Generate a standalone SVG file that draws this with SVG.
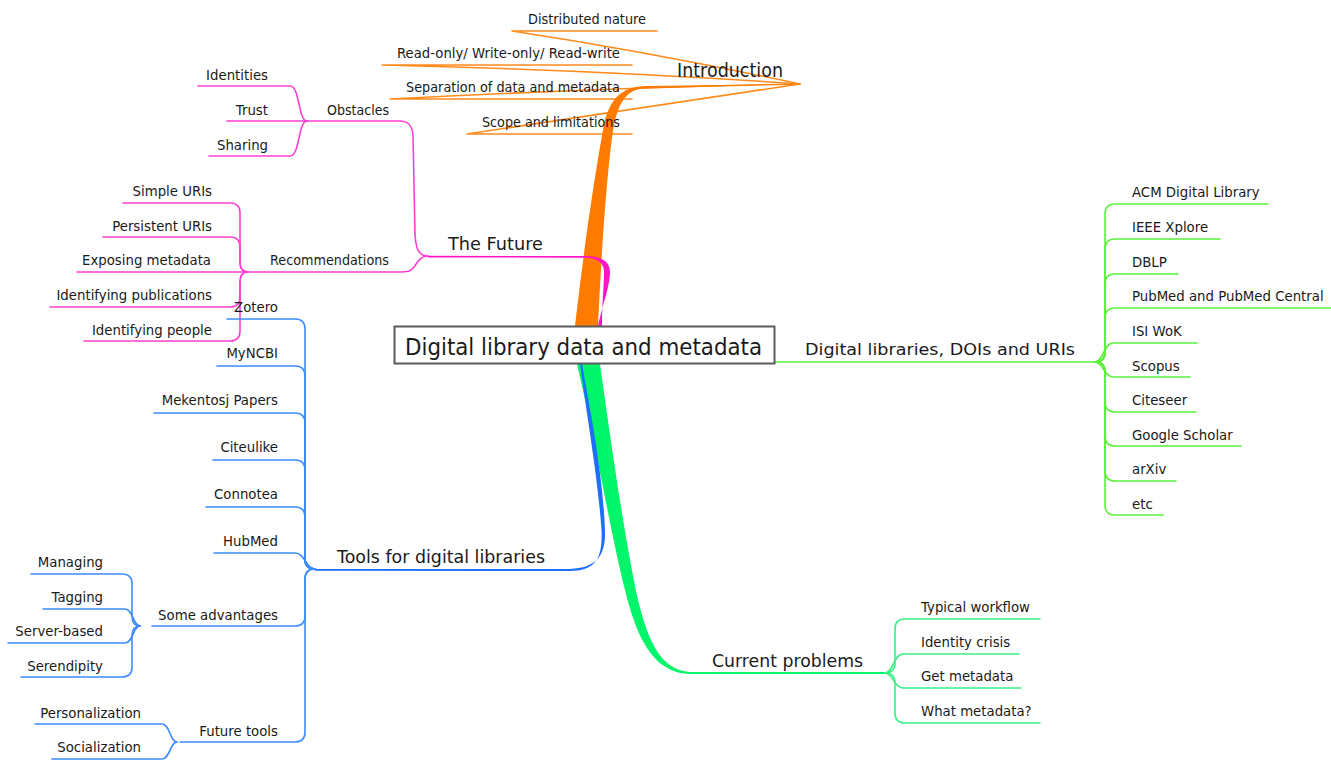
<svg xmlns="http://www.w3.org/2000/svg" width="1331" height="760" viewBox="0 0 1331 760">
<style>
.t{font-family:"DejaVu Sans",Verdana,sans-serif;font-size:13.3px;fill:#1a1a1a}
.e{text-anchor:end}
.b{font-size:18px}
.c{fill:none;stroke-width:1.6;stroke-linecap:round;stroke-linejoin:round}
.or{stroke:#ff8a1c}.pk{stroke:#ff3fd2}.bl{stroke:#3d8cff}.lg{stroke:#5cf03c}.mg{stroke:#3bef86}
</style>
<rect width="1331" height="760" fill="#fff"/>
<g id="connectors">
  <!-- Introduction -->
  <path class="c or" d="M800,84 Q650,52 512,31 H657"/>
  <path class="c or" d="M800,84 Q600,70 382,65 H632"/>
  <path class="c or" d="M800,84 Q600,88 390,99 H632"/>
  <path class="c or" d="M800,84 Q630,110 467,134 H632"/>
  <path fill="#ff7a00" d="M575,326 C585,240 597,160 605,120 C612,95 625,87 645,86 L800,84 L645,88.5 C630,89 620,97 614,125 C608,160 602,240 598,326 Z"/>
  <!-- The Future -->
  <path fill="#ff14c8" d="M598,326 C604,300 610,285 610,272 C610,261 601,256 585,256 L428,255.8 L428,257.4 L585,257.8 C598,258 604,263 604,272 C604,285 602,305 602,326 Z"/>
  <path class="c pk" d="M428,256 C418,256 416,248 415,235 L413,135 C412,125 408,121 400,121 H307"/>
  <path class="c pk" d="M428,256 C420,256 418,262 414,267 C411,271 408,272 400,272 H248"/>
  <path class="c pk" d="M307,121 C298,121 300,86 290,86 H198"/>
  <path class="c pk" d="M307,121 H227"/>
  <path class="c pk" d="M307,121 C298,121 300,156 290,156 H209"/>
  <path class="c pk" d="M248,272 Q240,272 240,262 V213 Q240,203 230,203 H123"/>
  <path class="c pk" d="M248,272 Q240,272 240,262 V247 Q240,237 230,237 H103"/>
  <path class="c pk" d="M248,272 H77"/>
  <path class="c pk" d="M248,272 Q240,272 240,282 V297 Q240,307 230,307 H50"/>
  <path class="c pk" d="M248,272 Q240,272 240,282 V331 Q240,341 230,341 H84"/>
  <!-- Current problems -->
  <path fill="#00f56a" d="M577,364 C597,450 612,540 625,590 C635,630 650,673 690,674 L885,674 L885,672 L690,672 C660,670 648,640 638,600 C625,540 612,450 600,364 Z"/>
  <path class="c mg" d="M885,673 Q895,673 895,663 V629 Q895,619 905,619 H1040"/>
  <path class="c mg" d="M885,673 C893,673 894,654 903,654 H1019"/>
  <path class="c mg" d="M885,673 C893,673 894,688 903,688 H1021"/>
  <path class="c mg" d="M885,673 Q895,673 895,683 V713 Q895,723 905,723 H1040"/>
  <!-- Tools -->
  <path fill="#1f6fff" d="M580,364 C589,430 598,480 601.5,530 C603,560 594,571 570,571 L315,570.8 L315,569 L570,569 C597,568 606,555 605,530 C603,480 594,430 582,364 Z"/>
  <path class="c bl" d="M315,569 Q305,569 305,559 V329 Q305,319 295,319 H227"/>
  <path class="c bl" d="M315,569 Q305,569 305,559 V376 Q305,366 295,366 H217"/>
  <path class="c bl" d="M315,569 Q305,569 305,559 V423 Q305,413 295,413 H154"/>
  <path class="c bl" d="M315,569 Q305,569 305,559 V470 Q305,460 295,460 H213"/>
  <path class="c bl" d="M315,569 Q305,569 305,559 V517 Q305,507 295,507 H206"/>
  <path class="c bl" d="M315,569 C306,569 305,553 295,553 H214"/>
  <path class="c bl" d="M315,569 Q305,569 305,579 V616 Q305,626 295,626 H152"/>
  <path class="c bl" d="M315,569 Q305,569 305,579 V732 Q305,742 295,742 H180"/>
  <path class="c bl" d="M140,626 Q132,626 132,616 V584 Q132,574 122,574 H31"/>
  <path class="c bl" d="M140,626 C133,626 133,609 125,609 H43"/>
  <path class="c bl" d="M140,626 C133,626 133,643 125,643 H8"/>
  <path class="c bl" d="M140,626 Q132,626 132,636 V667 Q132,677 122,677 H21"/>
  <path class="c bl" d="M177,742 C170,742 170,724 162,724 H35"/>
  <path class="c bl" d="M177,742 C170,742 170,759 162,759 H52"/>
  <!-- Digital libraries -->
  <path class="c lg" d="M775,362 H1095"/>
  <path class="c lg" d="M1095,362 Q1105,362 1105,352 V214 Q1105,204 1115,204 H1268"/>
  <path class="c lg" d="M1095,362 Q1105,362 1105,352 V249 Q1105,239 1115,239 H1220"/>
  <path class="c lg" d="M1095,362 Q1105,362 1105,352 V284 Q1105,274 1115,274 H1178"/>
  <path class="c lg" d="M1095,362 Q1105,362 1105,352 V318 Q1105,308 1115,308 H1331"/>
  <path class="c lg" d="M1095,362 C1103,362 1104,343 1113,343 H1197"/>
  <path class="c lg" d="M1095,362 C1103,362 1104,377 1113,377 H1190"/>
  <path class="c lg" d="M1095,362 Q1105,362 1105,372 V402 Q1105,412 1115,412 H1196"/>
  <path class="c lg" d="M1095,362 Q1105,362 1105,372 V436 Q1105,446 1115,446 H1241"/>
  <path class="c lg" d="M1095,362 Q1105,362 1105,372 V471 Q1105,481 1115,481 H1176"/>
  <path class="c lg" d="M1095,362 Q1105,362 1105,372 V505 Q1105,515 1115,515 H1163"/>
</g>
<g id="center">
  <rect x="394.5" y="326.5" width="380" height="37" fill="#fff" stroke="#5a5a5a" stroke-width="2"/>
  <text class="t" x="405" y="355" style="font-size:23px" textLength="357" lengthAdjust="spacingAndGlyphs">Digital library data and metadata</text>
</g>
<g id="introduction">
  <text class="t b" x="677" y="77" style="font-size:19px" textLength="106" lengthAdjust="spacingAndGlyphs">Introduction</text>
</g>
<g id="intro-distributed"><text class="t" x="528" y="24" textLength="118" lengthAdjust="spacingAndGlyphs">Distributed nature</text></g>
<g id="intro-readonly"><text class="t" x="397" y="58" textLength="223" lengthAdjust="spacingAndGlyphs">Read-only/ Write-only/ Read-write</text></g>
<g id="intro-separation"><text class="t" x="406" y="92" textLength="214" lengthAdjust="spacingAndGlyphs">Separation of data and metadata</text></g>
<g id="intro-scope"><text class="t" x="482" y="127" textLength="138" lengthAdjust="spacingAndGlyphs">Scope and limitations</text></g>

<g id="future"><text class="t b" x="448" y="250" textLength="95" lengthAdjust="spacingAndGlyphs">The Future</text></g>
<g id="obstacles"><text class="t" x="327" y="115" textLength="62" lengthAdjust="spacingAndGlyphs">Obstacles</text></g>
<g id="identities"><text class="t e" x="268" y="80">Identities</text></g>
<g id="trust"><text class="t e" x="268" y="115">Trust</text></g>
<g id="sharing"><text class="t e" x="268" y="150">Sharing</text></g>
<g id="recommendations"><text class="t" x="270" y="265" textLength="119" lengthAdjust="spacingAndGlyphs">Recommendations</text></g>
<g id="simple-uris"><text class="t e" x="212" y="196">Simple URIs</text></g>
<g id="persistent-uris"><text class="t e" x="212" y="231">Persistent URIs</text></g>
<g id="exposing-metadata"><text class="t e" x="211" y="265">Exposing metadata</text></g>
<g id="identifying-publications"><text class="t e" x="212" y="300">Identifying publications</text></g>
<g id="identifying-people"><text class="t e" x="212" y="335">Identifying people</text></g>

<g id="tools"><text class="t b" x="337" y="563" textLength="208" lengthAdjust="spacingAndGlyphs">Tools for digital libraries</text></g>
<g id="zotero"><text class="t e" x="278" y="312">Zotero</text></g>
<g id="myncbi"><text class="t e" x="278" y="358">MyNCBI</text></g>
<g id="mekentosj"><text class="t e" x="278" y="405">Mekentosj Papers</text></g>
<g id="citeulike"><text class="t e" x="278" y="452">Citeulike</text></g>
<g id="connotea"><text class="t e" x="278" y="499">Connotea</text></g>
<g id="hubmed"><text class="t e" x="278" y="546">HubMed</text></g>
<g id="some-advantages"><text class="t e" x="278" y="620">Some advantages</text></g>
<g id="managing"><text class="t e" x="103" y="567">Managing</text></g>
<g id="tagging"><text class="t e" x="103" y="602">Tagging</text></g>
<g id="server-based"><text class="t e" x="103" y="636">Server-based</text></g>
<g id="serendipity"><text class="t e" x="103" y="671">Serendipity</text></g>
<g id="future-tools"><text class="t e" x="278" y="736">Future tools</text></g>
<g id="personalization"><text class="t e" x="141" y="718">Personalization</text></g>
<g id="socialization"><text class="t e" x="141" y="752">Socialization</text></g>

<g id="digital-libraries"><text class="t" x="805" y="355" style="font-size:16.5px" textLength="270" lengthAdjust="spacingAndGlyphs">Digital libraries, DOIs and URIs</text></g>
<g id="acm"><text class="t" x="1132" y="197">ACM Digital Library</text></g>
<g id="ieee"><text class="t" x="1132" y="232">IEEE Xplore</text></g>
<g id="dblp"><text class="t" x="1132" y="267">DBLP</text></g>
<g id="pubmed"><text class="t" x="1132" y="301">PubMed and PubMed Central</text></g>
<g id="isi"><text class="t" x="1132" y="336">ISI WoK</text></g>
<g id="scopus"><text class="t" x="1132" y="371">Scopus</text></g>
<g id="citeseer"><text class="t" x="1132" y="405">Citeseer</text></g>
<g id="google-scholar"><text class="t" x="1132" y="440">Google Scholar</text></g>
<g id="arxiv"><text class="t" x="1132" y="474">arXiv</text></g>
<g id="etc"><text class="t" x="1132" y="509">etc</text></g>

<g id="current-problems"><text class="t b" x="712" y="667" textLength="151" lengthAdjust="spacingAndGlyphs">Current problems</text></g>
<g id="typical-workflow"><text class="t" x="921" y="612">Typical workflow</text></g>
<g id="identity-crisis"><text class="t" x="921" y="647">Identity crisis</text></g>
<g id="get-metadata"><text class="t" x="921" y="681">Get metadata</text></g>
<g id="what-metadata"><text class="t" x="921" y="716">What metadata?</text></g>
</svg>
